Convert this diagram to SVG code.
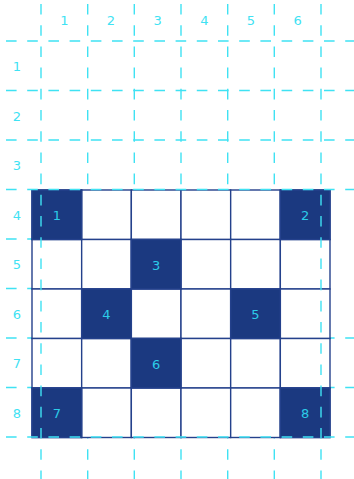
<svg xmlns="http://www.w3.org/2000/svg" width="354" height="479" viewBox="0 0 354 479">
<style>
.cell{fill:#ffffff;stroke:#24418c;stroke-width:1.4}
.dark{fill:#1b3980;stroke:#24418c;stroke-width:1.4}
.guide{stroke:#3fe2f3;stroke-width:1.4;stroke-dasharray:10.6 10.6;fill:none}
.lbl{font-family:"DejaVu Sans","Noto Sans",sans-serif;font-size:13px;fill:#3fe2f3;text-anchor:middle}
.clbl{font-family:"DejaVu Sans","Noto Sans",sans-serif;font-size:13px;fill:#2ccbe8;text-anchor:middle}
</style>
<rect width="354" height="479" fill="#ffffff"/>
<g id="guidesBelow">
<line class="guide" x1="6" y1="41" x2="354" y2="41"/>
<line class="guide" x1="6" y1="90.5" x2="354" y2="90.5"/>
<line class="guide" x1="6" y1="140" x2="354" y2="140"/>
<line class="guide" x1="6" y1="239" x2="32" y2="239"/>
<line class="guide" x1="6" y1="288.5" x2="32" y2="288.5"/>
<line class="guide" x1="6" y1="338" x2="354" y2="338"/>
<line class="guide" x1="6" y1="387.5" x2="354" y2="387.5"/>
<line class="guide" x1="87.7" y1="4" x2="87.7" y2="479"/>
<line class="guide" x1="134.3" y1="4" x2="134.3" y2="479"/>
<line class="guide" x1="181" y1="4" x2="181" y2="479"/>
<line class="guide" x1="227.7" y1="4" x2="227.7" y2="479"/>
<line class="guide" x1="274.3" y1="4" x2="274.3" y2="479"/>
</g>
<g id="grid">
<rect class="cell" x="32" y="190" width="49.67" height="49.5"/>
<rect class="cell" x="81.67" y="190" width="49.67" height="49.5"/>
<rect class="cell" x="131.33" y="190" width="49.67" height="49.5"/>
<rect class="cell" x="181" y="190" width="49.67" height="49.5"/>
<rect class="cell" x="230.67" y="190" width="49.67" height="49.5"/>
<rect class="cell" x="280.33" y="190" width="49.67" height="49.5"/>
<rect class="cell" x="32" y="239.5" width="49.67" height="49.5"/>
<rect class="cell" x="81.67" y="239.5" width="49.67" height="49.5"/>
<rect class="cell" x="131.33" y="239.5" width="49.67" height="49.5"/>
<rect class="cell" x="181" y="239.5" width="49.67" height="49.5"/>
<rect class="cell" x="230.67" y="239.5" width="49.67" height="49.5"/>
<rect class="cell" x="280.33" y="239.5" width="49.67" height="49.5"/>
<rect class="cell" x="32" y="289" width="49.67" height="49.5"/>
<rect class="cell" x="81.67" y="289" width="49.67" height="49.5"/>
<rect class="cell" x="131.33" y="289" width="49.67" height="49.5"/>
<rect class="cell" x="181" y="289" width="49.67" height="49.5"/>
<rect class="cell" x="230.67" y="289" width="49.67" height="49.5"/>
<rect class="cell" x="280.33" y="289" width="49.67" height="49.5"/>
<rect class="cell" x="32" y="338.5" width="49.67" height="49.5"/>
<rect class="cell" x="81.67" y="338.5" width="49.67" height="49.5"/>
<rect class="cell" x="131.33" y="338.5" width="49.67" height="49.5"/>
<rect class="cell" x="181" y="338.5" width="49.67" height="49.5"/>
<rect class="cell" x="230.67" y="338.5" width="49.67" height="49.5"/>
<rect class="cell" x="280.33" y="338.5" width="49.67" height="49.5"/>
<rect class="cell" x="32" y="388" width="49.67" height="49.5"/>
<rect class="cell" x="81.67" y="388" width="49.67" height="49.5"/>
<rect class="cell" x="131.33" y="388" width="49.67" height="49.5"/>
<rect class="cell" x="181" y="388" width="49.67" height="49.5"/>
<rect class="cell" x="230.67" y="388" width="49.67" height="49.5"/>
<rect class="cell" x="280.33" y="388" width="49.67" height="49.5"/>
</g>
<g id="n1"><rect class="dark" x="32" y="190" width="49.67" height="49.5"/><text class="clbl" x="56.8" y="220">1</text></g>
<g id="n2"><rect class="dark" x="280.33" y="190" width="49.67" height="49.5"/><text class="clbl" x="305.2" y="220">2</text></g>
<g id="n3"><rect class="dark" x="131.33" y="239.5" width="49.67" height="49.5"/><text class="clbl" x="156.2" y="269.5">3</text></g>
<g id="n4"><rect class="dark" x="81.67" y="289" width="49.67" height="49.5"/><text class="clbl" x="106.5" y="319">4</text></g>
<g id="n5"><rect class="dark" x="230.67" y="289" width="49.67" height="49.5"/><text class="clbl" x="255.5" y="319">5</text></g>
<g id="n6"><rect class="dark" x="131.33" y="338.5" width="49.67" height="49.5"/><text class="clbl" x="156.2" y="368.5">6</text></g>
<g id="n7"><rect class="dark" x="32" y="388" width="49.67" height="49.5"/><text class="clbl" x="56.8" y="418">7</text></g>
<g id="n8"><rect class="dark" x="280.33" y="388" width="49.67" height="49.5"/><text class="clbl" x="305.2" y="418">8</text></g>
<g id="guidesAbove">
<line class="guide" x1="6" y1="189.5" x2="354" y2="189.5"/>
<line class="guide" x1="6" y1="437" x2="354" y2="437"/>
<line class="guide" x1="41" y1="4" x2="41" y2="479"/>
<line class="guide" x1="321" y1="4" x2="321" y2="479"/>
</g>
<g id="colLabels">
<text class="lbl" x="64.3" y="25">1</text>
<text class="lbl" x="111" y="25">2</text>
<text class="lbl" x="157.7" y="25">3</text>
<text class="lbl" x="204.3" y="25">4</text>
<text class="lbl" x="251" y="25">5</text>
<text class="lbl" x="297.7" y="25">6</text>
</g>
<g id="rowLabels">
<text class="lbl" x="17" y="71">1</text>
<text class="lbl" x="17" y="120.5">2</text>
<text class="lbl" x="17" y="170">3</text>
<text class="lbl" x="17" y="219.5">4</text>
<text class="lbl" x="17" y="269">5</text>
<text class="lbl" x="17" y="318.5">6</text>
<text class="lbl" x="17" y="368">7</text>
<text class="lbl" x="17" y="417.5">8</text>
</g>
</svg>
